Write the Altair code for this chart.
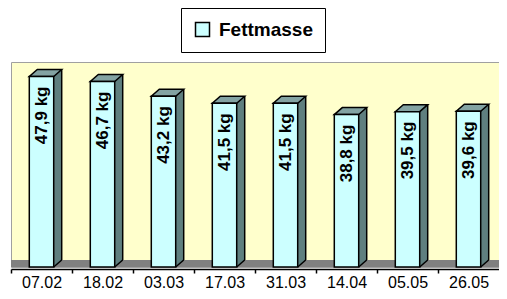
import altair as alt
import pandas as pd

# ---- data ----
dates = ["07.02", "18.02", "03.03", "17.03", "31.03", "14.04", "05.05", "26.05"]
fat_kg = [47.9, 46.7, 43.2, 41.5, 41.5, 38.8, 39.5, 39.6]
series_name = "Fettmasse"

# value axis range (hidden axis) and floor thickness in data units
Y_MIN = 2.39
Y_MAX = 51.37
FLOOR_TOP = 4.06

df = pd.DataFrame({"date": dates, "kg": fat_kg})
df["label"] = [f"{v:.1f}".replace(".", ",") + " kg" for v in fat_kg]
df["series"] = series_name
df["base"] = Y_MIN

floor_df = pd.DataFrame({"lo": [Y_MIN], "hi": [FLOOR_TOP]})

FRONT = "#ccffff"
SIDE = "#5f7f7f"
TOP = "#83a3a3"
FONT = "Liberation Sans"

# custom symbol paths (size=4 -> 1 unit = 1 px)
TOP_FACE = "M -12.2 0 L 12.2 0 L 20.2 -7 L -4.2 -7 Z"
BOTTOM_TRI = "M 12.2 0 L 20.2 -7 L 20.2 -7.8 L 12.2 -7.8 Z"
BOTTOM_DIAG = "M 12.2 0 L 20.2 -7"

yscale = alt.Scale(domain=[Y_MIN, Y_MAX], zero=False, nice=False)

x = alt.X(
    "date:N",
    sort=dates,
    scale=alt.Scale(paddingInner=0.6, paddingOuter=0.3),
    axis=alt.Axis(
        title=None, labelAngle=0, labelFont=FONT, labelFontSize=16,
        labelColor="black", domainColor="black", domainWidth=1.5,
        tickColor="black", tickWidth=1.5, tickSize=4,
        tickOffset=-30.5, labelOffset=30.5, labelPadding=1, offset=2,
    ),
)
y = alt.Y("kg:Q", scale=yscale, axis=None)
ybase = alt.Y("base:Q", scale=yscale, axis=None)

base = alt.Chart(df)

floor = alt.Chart(floor_df).mark_rect(color="#808080").encode(
    x=alt.value(0), x2=alt.value("width"),
    y=alt.Y("lo:Q", scale=yscale, axis=None), y2="hi:Q",
)

side = base.mark_bar(fill=SIDE, xOffset=8, yOffset=-7, y2Offset=-7).encode(
    x=x, y=y, y2="base:Q"
)

bottom_tri = base.mark_point(
    shape=BOTTOM_TRI, size=4, filled=True, fill=SIDE, strokeWidth=0, opacity=1
).encode(x=x, y=ybase)

right_edge = base.mark_rule(
    color="black", strokeWidth=1.5, xOffset=20.2, x2Offset=20.2, yOffset=-7, y2Offset=-7
).encode(x=x, y=y, y2="base:Q")

bottom_diag = base.mark_point(
    shape=BOTTOM_DIAG, size=4, filled=False, stroke="black", strokeWidth=1.5, opacity=1
).encode(x=x, y=ybase)

top_face = base.mark_point(
    shape=TOP_FACE, size=4, filled=True, fill=TOP, stroke="black", strokeWidth=1.5, opacity=1
).encode(x=x, y=y)

front = base.mark_bar(stroke="black", strokeWidth=1.5).encode(
    x=x, y=y, y2="base:Q",
    color=alt.Color(
        "series:N",
        scale=alt.Scale(domain=[series_name], range=[FRONT]),
        legend=alt.Legend(
            title=None, orient="none", legendX=170, legendY=-54,
            symbolType="square", symbolSize=196, symbolStrokeColor="black",
            symbolStrokeWidth=1.5, labelFont=FONT, labelFontSize=19,
            labelFontWeight="bold", labelColor="black", labelOffset=7,
            padding=12, strokeColor="black", fillColor="white",
        ),
    ),
)

labels = base.mark_text(
    angle=270, align="right", baseline="middle", dx=-10,
    font=FONT, fontSize=17, fontWeight="bold", color="black",
).encode(x=x, y=y, text="label:N")

chart = (
    alt.layer(floor, side, bottom_tri, right_edge, bottom_diag, top_face, front, labels)
    .properties(
        width=488, height=205,
        padding={"left": 3, "top": 54, "right": 0, "bottom": 24},
        autosize=alt.AutoSizeParams(type="none"),
        background="white",
    )
    .configure_view(fill="#ffffcc", stroke="#a0a0a0", strokeWidth=1)
)

chart.save("out.html", embed_options={"renderer": "svg", "actions": False})
